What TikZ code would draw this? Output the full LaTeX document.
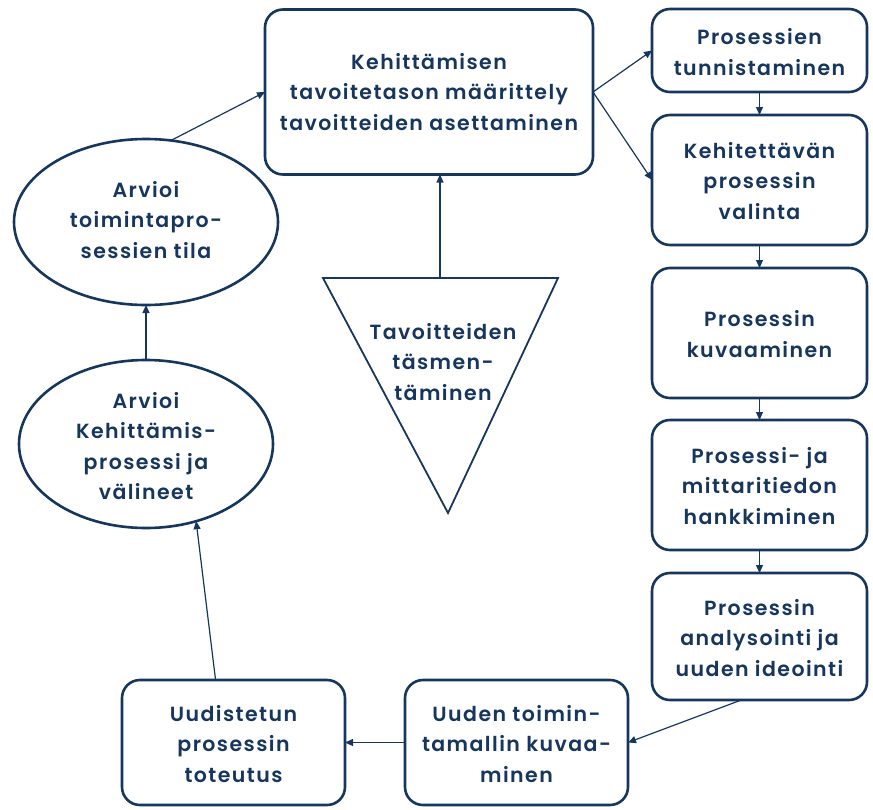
\documentclass[tikz,border=0pt]{standalone}
\usepackage{fontspec}
\setmainfont{Poppins}[UprightFont={* SemiBold}, LetterSpace=7]
\usetikzlibrary{arrows.meta,shapes.geometric}
\definecolor{navy}{HTML}{17365D}
\tikzset{
  box/.style={draw=navy, line width=2.6pt, rounded corners=18pt, fill=white,
    minimum width=#1, inner sep=0pt, outer sep=0pt},
  oval/.style={draw=navy, line width=2.6pt, ellipse, inner sep=0pt, outer sep=0pt},
  lbl/.style={text=navy, align=center, font=\fontsize{20.5}{30.5}\selectfont},
  arr/.style={draw=navy, line width=1.2pt, -{Triangle[length=8pt,width=7pt]}},
}
\begin{document}
\begin{tikzpicture}[x=1pt,y=-1pt]
\useasboundingbox (0,0) rectangle (873,809);

% central goal box
\node[box=328pt, minimum height=165pt] (main) at (429,92) {};
\node[lbl] at (429,92) {Kehittämisen\\tavoitetason määrittely\\tavoitteiden asettaminen};

% right-hand process column
\node[box=215pt, minimum height=83pt]  (tun) at (759.5,50.5) {};
\node[lbl] at (759.5,52) {Prosessien\\tunnistaminen};
\node[box=215pt, minimum height=130pt] (val) at (759.5,180) {};
\node[lbl] at (759.5,181) {Kehitettävän\\prosessin\\valinta};
\node[box=215pt, minimum height=130pt] (kuv) at (759.5,333) {};
\node[lbl] at (759.5,334) {Prosessin\\kuvaaminen};
\node[box=215pt, minimum height=130pt] (han) at (759.5,485) {};
\node[lbl] at (759.5,486) {Prosessi- ja\\mittaritiedon\\hankkiminen};
\node[box=215pt, minimum height=127pt] (ana) at (759.5,636.5) {};
\node[lbl] at (759.5,638) {Prosessin\\analysointi ja\\uuden ideointi};

% bottom row
\node[box=223pt, minimum height=125pt] (uus) at (516.5,742.5) {};
\node[lbl] at (516.5,744) {Uuden toimin-\\tamallin kuvaa-\\minen};
\node[box=223pt, minimum height=125pt] (tot) at (233.5,742.5) {};
\node[lbl] at (233.5,744) {Uudistetun\\prosessin\\toteutus};

% evaluation ellipses
\node[oval, minimum width=264pt, minimum height=166pt] (tila) at (146,222) {};
\node[lbl] at (146,220) {Arvioi\\toimintapro-\\sessien tila};
\node[oval, minimum width=254pt, minimum height=168pt] (kpv) at (146,444) {};
\node[lbl] at (146,446) {Arvioi\\Kehittämis-\\prosessi ja\\välineet};

% refinement triangle
\coordinate (tl) at (323,278);
\coordinate (tr) at (558,278);
\coordinate (tb) at (448,513);
\coordinate (ttop) at (440,278);
\draw[navy, line width=1.8pt, line join=miter] (tl) -- (tr) -- (tb) -- cycle;
\node[lbl] (tri) at (443,362) {Tavoitteiden\\täsmen-\\täminen};

% connectors
\draw[arr] (ttop) -- (main.south -| ttop);
\draw[arr] (main.east) -- (tun.west);
\draw[arr] (main.east) -- (val.west);
\draw[arr] (tun.south) -- (val.north);
\draw[arr] (val.south) -- (kuv.north);
\draw[arr] (kuv.south) -- (han.north);
\draw[arr] (han.south) -- (ana.north);
\draw[arr] (ana.254) -- (uus.east);
\draw[arr] (uus.west) -- (tot.east);
\draw[arr] (tot.106) -- (kpv.-57);
\draw[arr] (kpv.north) -- (tila.south);
\draw[arr] (tila.73) -- (main.west);
\end{tikzpicture}
\end{document}
